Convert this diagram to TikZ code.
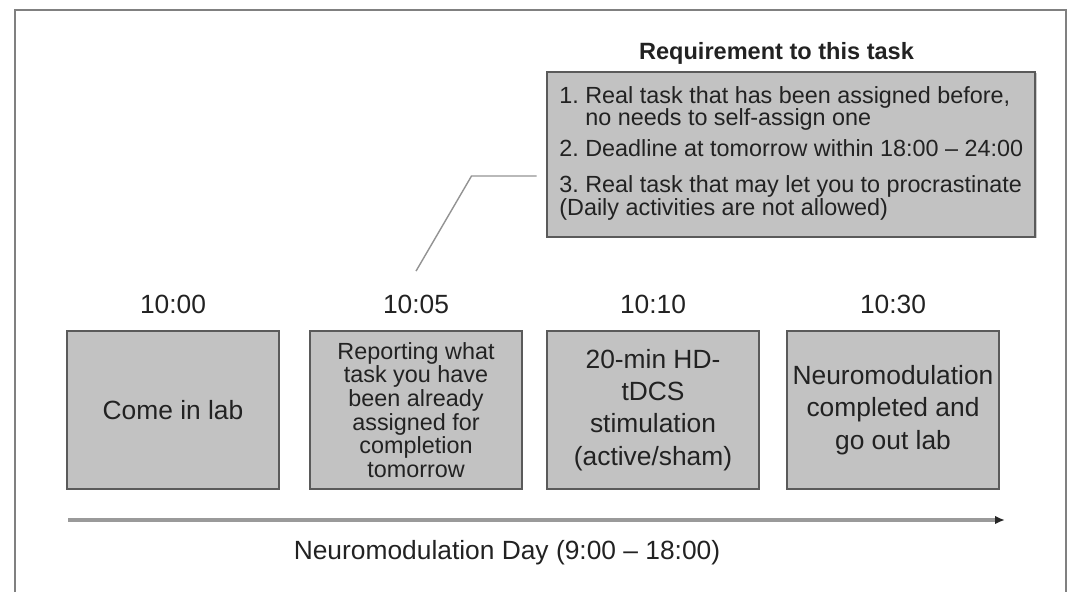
\documentclass[tikz,border=0pt]{standalone}
\usepackage{fontspec}
\setmainfont{Liberation Sans}
\frenchspacing
\usetikzlibrary{positioning,arrows.meta,shadows}
\definecolor{boxfill}{HTML}{C2C2C2}
\definecolor{boxline}{HTML}{5A5A5A}
\definecolor{frameline}{HTML}{808080}
\definecolor{axisline}{HTML}{9A9A9A}
\definecolor{ink}{HTML}{222222}

\begin{document}
\begin{tikzpicture}[x=1cm,y=1cm,
  stagebox/.style={fill=boxfill, draw=boxline, line width=0.9pt, minimum width=4.24cm, minimum height=3.16cm, align=center, text=ink, inner sep=0pt},
  timelbl/.style={text=ink, font=\fontsize{15}{18}\selectfont},
  reqbox/.style={fill=boxfill, draw=boxline, line width=1.1pt, minimum width=9.76cm, minimum height=3.3cm, drop shadow={shadow xshift=0.03cm, shadow yshift=-0.03cm, fill=black!40}},
  callout/.style={draw=gray!85, line width=0.8pt}]
\useasboundingbox (0,0) rectangle (21.4,11.84);
\draw[frameline, line width=1.1pt] (0.3,0) -- (0.3,11.64) -- (21.32,11.64) -- (21.32,0);

\node[stagebox, font=\fontsize{15}{18}\selectfont] (b1) at (3.46,3.64) {Come in lab};
\node[stagebox, font=\fontsize{13.3}{13.5}\selectfont] (b2) at (8.32,3.64) {Reporting what\\task you have\\been already\\assigned for\\completion\\tomorrow};
\node[stagebox, font=\fontsize{15}{18.4}\selectfont] (b3) at (13.06,3.64) {20-min HD-\\tDCS\\stimulation\\(active/sham)};
\node[stagebox, font=\fontsize{15}{18.4}\selectfont] (b4) at (17.86,3.64) {Neuromodulation\\completed and\\go out lab};

\node[timelbl, above=0.21cm of b1] (t1) {10:00};
\node[timelbl, above=0.21cm of b2] (t2) {10:05};
\node[timelbl, above=0.21cm of b3] (t3) {10:10};
\node[timelbl, above=0.21cm of b4] (t4) {10:30};

\node[font=\bfseries\fontsize{13.4}{16}\selectfont, text=ink] (reqtitle) at (15.53,10.78) {Requirement to this task};
\node[reqbox] (req) at (15.82,8.75) {};
\node[anchor=north west, inner sep=0pt, align=left, text=ink, font=\fontsize{13.3}{12.6}\selectfont] (reqtxt) at ([xshift=0.26cm,yshift=-0.3cm]req.north west) {1. Real task that has been assigned before,\\\phantom{1.~}no needs to self-assign one\\[5pt]2. Deadline at tomorrow within 18:00 – 24:00\\[8.2pt]3. Real task that may let you to procrastinate\\(Daily activities are not allowed)};

\coordinate (bend) at (9.43,8.32);
\coordinate (tip) at (10.73,8.32);
\draw[callout] ([yshift=0.35cm]t2.north) -- (bend) -- (tip);

\coordinate (tstart) at (1.36,1.44);
\coordinate (tend) at (20.1,1.44);
\draw[axisline, line width=1.8pt, -{Latex[length=0.2cm,width=0.17cm,color=black!85]}] (tstart) -- (tend);
\node[timelbl] (day) at (10.14,0.78) {Neuromodulation Day (9:00 – 18:00)};
\end{tikzpicture}
\end{document}
